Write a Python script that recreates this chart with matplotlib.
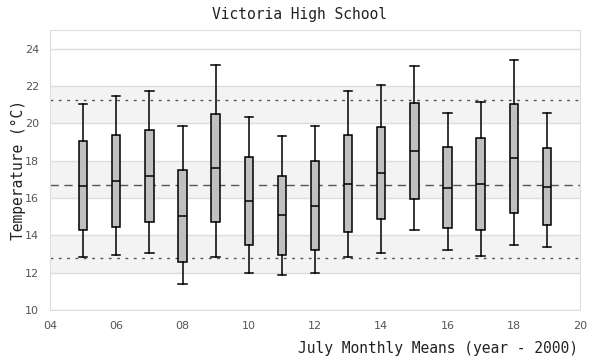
import matplotlib
matplotlib.use("Agg")
import matplotlib.pyplot as plt

years = [5, 6, 7, 8, 9, 10, 11, 12, 13, 14, 15, 16, 17, 18, 19]
whislo = [12.85, 12.96, 13.08, 11.37, 12.85, 11.96, 11.85, 11.96, 12.85, 13.08, 14.26, 13.19, 12.87, 13.46, 13.35]
q1 = [14.26, 14.42, 14.69, 12.55, 14.74, 13.47, 12.97, 13.19, 14.20, 14.85, 15.92, 14.37, 14.26, 15.22, 14.53]
med = [16.66, 16.91, 17.20, 15.01, 17.63, 15.86, 15.11, 15.59, 16.77, 17.36, 18.54, 16.56, 16.75, 18.16, 16.60]
q3 = [19.07, 19.39, 19.66, 17.52, 20.49, 18.19, 17.18, 17.98, 19.38, 19.80, 21.10, 18.73, 19.21, 21.03, 18.68]
whishi = [21.05, 21.46, 21.72, 19.85, 23.13, 20.33, 19.32, 19.85, 21.72, 22.04, 23.06, 20.55, 21.14, 23.40, 20.55]

mean_temp = 16.67
upper_ref = 21.26
lower_ref = 12.76

xticks = list(range(4, 21, 2))
yticks = list(range(10, 25, 2))

fig = plt.figure(figsize=(6, 3.6), dpi=100)
ax = fig.add_axes([50/600, 1-310/360, 530/600, 280/360])

# alternating bands
for lo in (12, 16, 20):
    ax.axhspan(lo, lo + 2, color="#f3f3f3", zorder=0, lw=0)
for y in yticks:
    ax.axhline(y, color="#dddddd", lw=1, zorder=1)

ax.axhline(mean_temp, color="#555555", lw=1, ls=(0, (6, 4)), zorder=2)
ax.axhline(upper_ref, color="#555555", lw=1, ls=(0, (2, 4)), zorder=2)
ax.axhline(lower_ref, color="#555555", lw=1, ls=(0, (2, 4)), zorder=2)

stats = []
for i in range(len(years)):
    stats.append(dict(whislo=whislo[i], q1=q1[i], med=med[i], q3=q3[i], whishi=whishi[i], fliers=[]))

ax.bxp(stats, positions=years, widths=0.25, showfliers=False, patch_artist=True,
       boxprops=dict(facecolor="#c0c0c0", edgecolor="black", lw=1.1),
       medianprops=dict(color="black", lw=1.1),
       whiskerprops=dict(color="black", lw=1.1),
       capprops=dict(color="black", lw=1.1), capwidths=0.25,
       zorder=3)

ax.set_xlim(4, 20)
ax.set_ylim(10, 25)
ax.set_xticks(xticks)
ax.set_xticklabels(["%02d" % x for x in xticks])
ax.set_yticks(yticks)
ax.tick_params(length=0, labelsize=8, colors="#555555", pad=8)
for s in ax.spines.values():
    s.set_color("#dddddd")

mono = "DejaVu Sans Mono"
fig.text(0.5, 0.96, "Victoria High School", ha="center", va="center", family=mono, fontsize=10.5, color="#222222")
fig.text(0.03, 0.528, "Temperature (°C)", ha="center", va="center", rotation=90, family=mono, fontsize=10.5, color="#222222")
fig.text(578/600, 1-348/360, "July Monthly Means (year - 2000)", ha="right", va="center", family=mono, fontsize=10.5, color="#222222")

fig.savefig("out.png", dpi=100)
